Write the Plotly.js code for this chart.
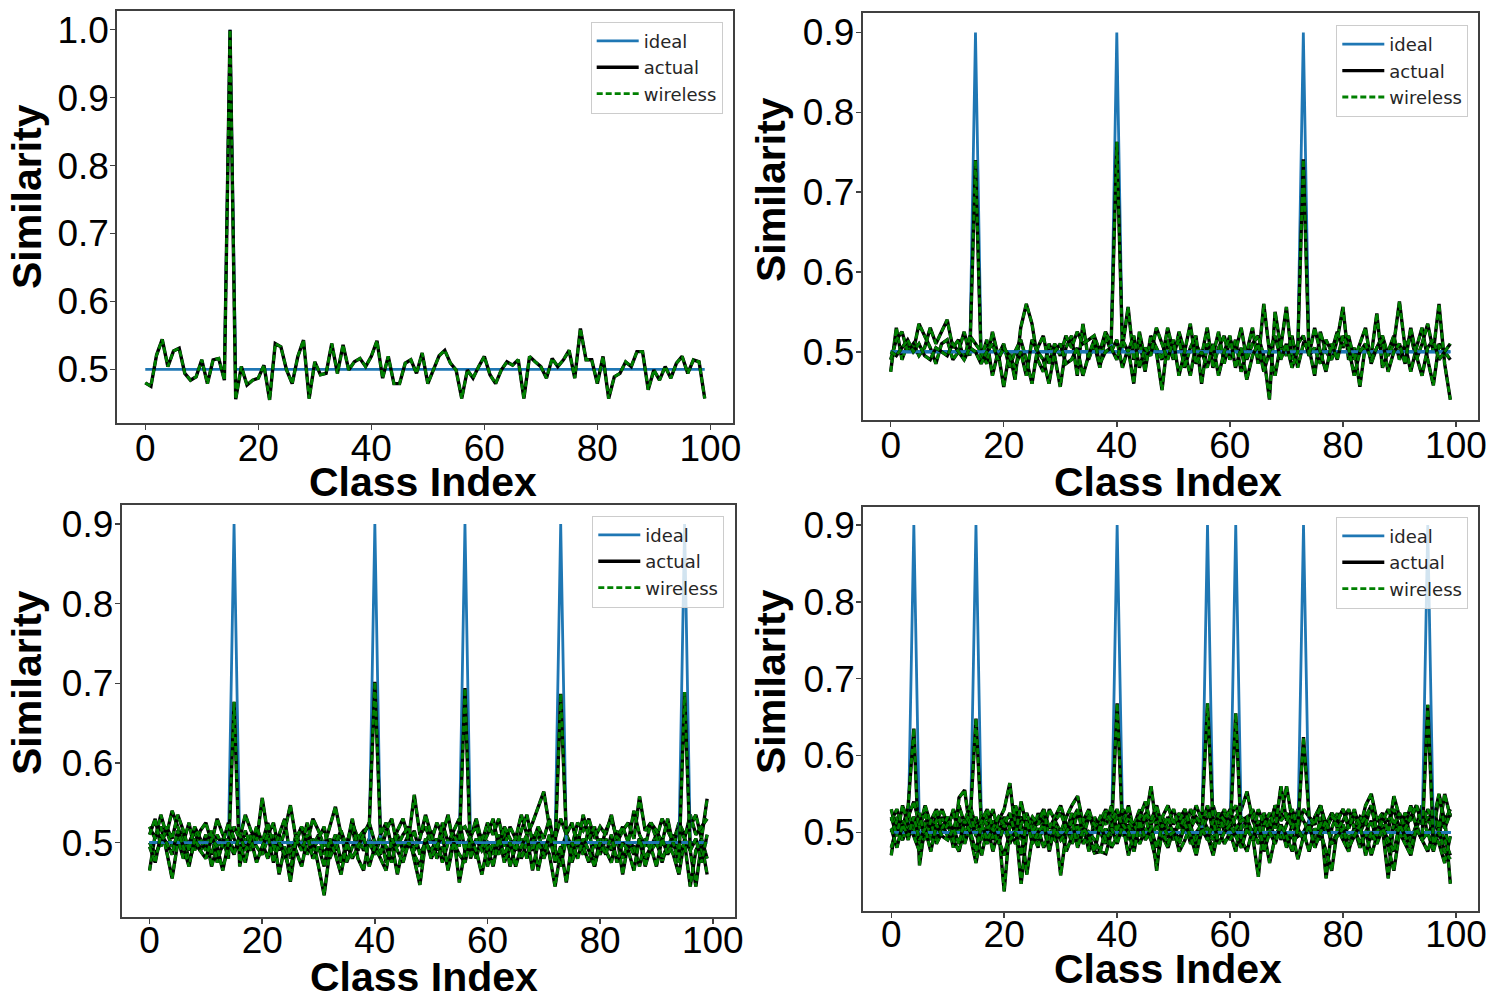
<!DOCTYPE html>
<html>
<head>
<meta charset="utf-8">
<script src="https://cdn.plot.ly/plotly-3.0.1.min.js"></script>
<style>
  html, body { margin: 0; padding: 0; background: #fff; }
  #chart { width: 1490px; height: 1000px; }
</style>
</head>
<body>
<div id="chart"></div>
<script>
// class index axis
var classIndex = [];
for (var c = 0; c < 100; c++) classIndex.push(c);

var xTicks = [0, 20, 40, 60, 80, 100];
var yTicks1 = [0.5, 0.6, 0.7, 0.8, 0.9, 1.0];
var yTicks = [0.5, 0.6, 0.7, 0.8, 0.9];

// ideal response: baseline everywhere, full similarity on the queried class
var idealBase = 0.5;
var idealHigh1 = 1.0;
var idealHigh = 0.9;

// panel 1 : one query
var peaks1 = [15];
var actual1a = [
  0.48, 0.475, 0.521, 0.544, 0.504, 0.527, 0.531, 0.494, 0.484, 0.489,
  0.514, 0.479, 0.514, 0.516, 0.484, 1.0, 0.456, 0.504, 0.477, 0.484,
  0.487, 0.506, 0.455, 0.538, 0.533, 0.499, 0.479, 0.519, 0.543, 0.457,
  0.511, 0.492, 0.494, 0.538, 0.494, 0.536, 0.499, 0.511, 0.516, 0.504,
  0.519, 0.542, 0.487, 0.519, 0.479, 0.479, 0.509, 0.514, 0.494, 0.524,
  0.479, 0.499, 0.52, 0.528, 0.509, 0.499, 0.457, 0.499, 0.487, 0.504,
  0.519, 0.492, 0.479, 0.499, 0.511, 0.506, 0.514, 0.457, 0.519, 0.511,
  0.504, 0.487, 0.516, 0.504, 0.514, 0.528, 0.487, 0.56, 0.514, 0.514,
  0.479, 0.519, 0.457, 0.489, 0.494, 0.511, 0.504, 0.526, 0.526, 0.47,
  0.499, 0.484, 0.504, 0.487, 0.509, 0.519, 0.494, 0.514, 0.511, 0.457
];

// panel 2 : three queries
var peaks2 = [15, 40, 73];
var actual2a = [
  0.475, 0.53, 0.49, 0.51, 0.50, 0.535, 0.52, 0.505, 0.485, 0.51,
  0.515, 0.49, 0.50, 0.525, 0.495, 0.74, 0.49, 0.515, 0.47, 0.50,
  0.456, 0.50, 0.465, 0.53, 0.56, 0.535, 0.49, 0.475, 0.51, 0.495,
  0.456, 0.505, 0.52, 0.47, 0.535, 0.49, 0.51, 0.48, 0.52, 0.50,
  0.515, 0.48, 0.505, 0.46, 0.525, 0.49, 0.51, 0.50, 0.452, 0.515,
  0.49, 0.525, 0.50, 0.47, 0.51, 0.495, 0.53, 0.48, 0.505, 0.52,
  0.49, 0.515, 0.475, 0.50, 0.53, 0.485, 0.56, 0.50, 0.47, 0.51,
  0.495, 0.52, 0.48, 0.51, 0.505, 0.47, 0.525, 0.50, 0.49, 0.515,
  0.556, 0.49, 0.505, 0.456, 0.51, 0.495, 0.548, 0.48, 0.50, 0.52,
  0.49, 0.51, 0.475, 0.505, 0.53, 0.49, 0.458, 0.51, 0.50, 0.49
];
var actual2b = [
  0.49, 0.515, 0.525, 0.50, 0.51, 0.495, 0.505, 0.53, 0.51, 0.525,
  0.54, 0.505, 0.515, 0.49, 0.52, 0.51, 0.50, 0.485, 0.525, 0.495,
  0.51, 0.48, 0.50, 0.515, 0.49, 0.46, 0.505, 0.52, 0.485, 0.51,
  0.495, 0.52, 0.505, 0.525, 0.51, 0.515, 0.52, 0.50, 0.525, 0.51,
  0.763, 0.505, 0.556, 0.49, 0.515, 0.475, 0.52, 0.505, 0.49, 0.53,
  0.50, 0.515, 0.48, 0.505, 0.52, 0.46, 0.51, 0.495, 0.525, 0.485,
  0.515, 0.50, 0.53, 0.49, 0.51, 0.52, 0.495, 0.44, 0.55, 0.505,
  0.556, 0.49, 0.51, 0.52, 0.495, 0.505, 0.485, 0.515, 0.50, 0.525,
  0.505, 0.52, 0.49, 0.51, 0.53, 0.485, 0.505, 0.52, 0.495, 0.51,
  0.563, 0.505, 0.52, 0.49, 0.51, 0.535, 0.50, 0.56, 0.485, 0.44
];
var actual2c = [
  0.50, 0.495, 0.505, 0.515, 0.50, 0.51, 0.495, 0.49, 0.505, 0.50,
  0.495, 0.51, 0.50, 0.49, 0.505, 0.50, 0.485, 0.50, 0.51, 0.49,
  0.505, 0.495, 0.48, 0.50, 0.47, 0.515, 0.50, 0.49, 0.46, 0.50,
  0.51, 0.485, 0.49, 0.505, 0.47, 0.495, 0.515, 0.485, 0.50, 0.505,
  0.49, 0.515, 0.50, 0.52, 0.48, 0.505, 0.495, 0.53, 0.51, 0.49,
  0.515, 0.47, 0.50, 0.535, 0.485, 0.50, 0.48, 0.51, 0.47, 0.50,
  0.52, 0.48, 0.505, 0.465, 0.495, 0.51, 0.475, 0.50, 0.52, 0.49,
  0.51, 0.48, 0.50, 0.741, 0.495, 0.53, 0.50, 0.475, 0.51, 0.49,
  0.52, 0.505, 0.47, 0.50, 0.51, 0.49, 0.505, 0.515, 0.475, 0.50,
  0.51, 0.485, 0.53, 0.495, 0.47, 0.505, 0.515, 0.49, 0.50, 0.51
];

// panel 3 : five queries
var peaks3 = [15, 40, 56, 73, 95];
var actual3a = [
  0.465, 0.51, 0.52, 0.49, 0.455, 0.50, 0.515, 0.475, 0.50, 0.49,
  0.51, 0.47, 0.495, 0.505, 0.48, 0.677, 0.47, 0.505, 0.49, 0.515,
  0.50, 0.48, 0.51, 0.46, 0.495, 0.451, 0.50, 0.52, 0.485, 0.505,
  0.47, 0.434, 0.49, 0.51, 0.475, 0.50, 0.52, 0.48, 0.465, 0.505,
  0.49, 0.51, 0.475, 0.50, 0.46, 0.495, 0.51, 0.48, 0.447, 0.50,
  0.515, 0.48, 0.495, 0.47, 0.51, 0.45, 0.49, 0.505, 0.48, 0.51,
  0.47, 0.50, 0.485, 0.515, 0.47, 0.495, 0.505, 0.48, 0.51, 0.465,
  0.50, 0.485, 0.445, 0.49, 0.51, 0.475, 0.50, 0.485, 0.52, 0.47,
  0.505, 0.49, 0.475, 0.51, 0.46, 0.50, 0.485, 0.505, 0.47, 0.495,
  0.51, 0.475, 0.50, 0.485, 0.46, 0.505, 0.49, 0.445, 0.50, 0.46
];
var actual3b = [
  0.52, 0.505, 0.535, 0.51, 0.54, 0.52, 0.50, 0.525, 0.49, 0.515,
  0.525, 0.50, 0.53, 0.51, 0.495, 0.52, 0.505, 0.535, 0.515, 0.50,
  0.556, 0.51, 0.525, 0.49, 0.515, 0.547, 0.505, 0.52, 0.50, 0.53,
  0.515, 0.495, 0.52, 0.545, 0.51, 0.49, 0.525, 0.505, 0.515, 0.52,
  0.702, 0.51, 0.525, 0.495, 0.515, 0.53, 0.505, 0.56, 0.51, 0.52,
  0.50, 0.525, 0.51, 0.535, 0.495, 0.515, 0.52, 0.505, 0.53, 0.50,
  0.525, 0.51, 0.53, 0.495, 0.52, 0.505, 0.535, 0.51, 0.525, 0.545,
  0.564, 0.52, 0.505, 0.53, 0.51, 0.495, 0.525, 0.515, 0.53, 0.505,
  0.52, 0.51, 0.535, 0.50, 0.515, 0.525, 0.505, 0.558, 0.515, 0.525,
  0.505, 0.53, 0.515, 0.50, 0.525, 0.51, 0.52, 0.535, 0.505, 0.555
];
var actual3c = [
  0.50, 0.485, 0.50, 0.515, 0.495, 0.505, 0.48, 0.50, 0.515, 0.49,
  0.50, 0.485, 0.51, 0.495, 0.505, 0.49, 0.50, 0.475, 0.51, 0.495,
  0.485, 0.505, 0.495, 0.51, 0.48, 0.50, 0.49, 0.47, 0.505, 0.495,
  0.51, 0.485, 0.50, 0.49, 0.515, 0.475, 0.495, 0.51, 0.49, 0.50,
  0.485, 0.505, 0.495, 0.475, 0.51, 0.49, 0.50, 0.515, 0.485, 0.50,
  0.49, 0.505, 0.475, 0.50, 0.51, 0.495, 0.694, 0.48, 0.505, 0.49,
  0.50, 0.485, 0.51, 0.475, 0.495, 0.505, 0.48, 0.50, 0.49, 0.515,
  0.48, 0.50, 0.49, 0.47, 0.505, 0.485, 0.51, 0.495, 0.475, 0.50,
  0.485, 0.505, 0.49, 0.515, 0.48, 0.50, 0.495, 0.47, 0.505, 0.49,
  0.50, 0.48, 0.495, 0.51, 0.485, 0.50, 0.445, 0.49, 0.505, 0.48
];
var actual3d = [
  0.51, 0.53, 0.495, 0.52, 0.505, 0.535, 0.515, 0.49, 0.52, 0.505,
  0.49, 0.515, 0.475, 0.50, 0.525, 0.505, 0.49, 0.515, 0.495, 0.52,
  0.50, 0.525, 0.49, 0.51, 0.53, 0.48, 0.51, 0.495, 0.525, 0.49,
  0.505, 0.52, 0.48, 0.50, 0.515, 0.495, 0.53, 0.49, 0.51, 0.525,
  0.50, 0.485, 0.515, 0.53, 0.495, 0.51, 0.52, 0.49, 0.505, 0.535,
  0.51, 0.49, 0.525, 0.50, 0.515, 0.53, 0.49, 0.51, 0.52, 0.495,
  0.51, 0.53, 0.495, 0.52, 0.505, 0.49, 0.515, 0.535, 0.50, 0.52,
  0.505, 0.53, 0.49, 0.687, 0.51, 0.525, 0.495, 0.535, 0.505, 0.52,
  0.49, 0.515, 0.53, 0.505, 0.52, 0.50, 0.54, 0.51, 0.495, 0.525,
  0.515, 0.50, 0.53, 0.495, 0.52, 0.505, 0.535, 0.51, 0.52, 0.53
];
var actual3e = [
  0.495, 0.475, 0.51, 0.50, 0.485, 0.515, 0.495, 0.47, 0.505, 0.49,
  0.48, 0.505, 0.495, 0.465, 0.50, 0.485, 0.51, 0.49, 0.505, 0.475,
  0.495, 0.51, 0.475, 0.50, 0.485, 0.465, 0.505, 0.49, 0.51, 0.48,
  0.495, 0.47, 0.505, 0.485, 0.46, 0.50, 0.48, 0.495, 0.51, 0.47,
  0.495, 0.48, 0.465, 0.505, 0.49, 0.475, 0.50, 0.485, 0.47, 0.505,
  0.48, 0.495, 0.51, 0.465, 0.50, 0.485, 0.475, 0.505, 0.49, 0.46,
  0.495, 0.47, 0.505, 0.485, 0.50, 0.47, 0.495, 0.51, 0.465, 0.50,
  0.485, 0.51, 0.475, 0.495, 0.45, 0.50, 0.48, 0.505, 0.49, 0.47,
  0.50, 0.485, 0.51, 0.475, 0.50, 0.49, 0.465, 0.505, 0.48, 0.495,
  0.47, 0.505, 0.485, 0.50, 0.475, 0.689, 0.49, 0.505, 0.475, 0.51
];

// panel 4 : seven queries
var peaks4 = [4, 15, 40, 56, 61, 73, 95];
var actual4a = [
  0.47, 0.52, 0.505, 0.535, 0.635, 0.457, 0.51, 0.49, 0.525, 0.50,
  0.515, 0.48, 0.545, 0.555, 0.50, 0.52, 0.49, 0.51, 0.475, 0.505,
  0.423, 0.51, 0.53, 0.49, 0.515, 0.50, 0.48, 0.52, 0.495, 0.51,
  0.444, 0.50, 0.525, 0.49, 0.51, 0.475, 0.52, 0.50, 0.485, 0.515,
  0.50, 0.525, 0.49, 0.51, 0.53, 0.495, 0.515, 0.45, 0.52, 0.505,
  0.49, 0.515, 0.53, 0.50, 0.485, 0.52, 0.505, 0.49, 0.515, 0.53,
  0.50, 0.475, 0.52, 0.51, 0.495, 0.442, 0.515, 0.50, 0.53, 0.49,
  0.51, 0.525, 0.495, 0.50, 0.515, 0.48, 0.52, 0.44, 0.505, 0.525,
  0.49, 0.51, 0.53, 0.50, 0.515, 0.49, 0.52, 0.505, 0.44, 0.515,
  0.50, 0.525, 0.49, 0.51, 0.535, 0.495, 0.515, 0.50, 0.52, 0.433
];
var actual4b = [
  0.53, 0.50, 0.515, 0.49, 0.52, 0.505, 0.535, 0.51, 0.495, 0.52,
  0.505, 0.53, 0.51, 0.49, 0.52, 0.648, 0.505, 0.525, 0.49, 0.515,
  0.53, 0.564, 0.50, 0.52, 0.51, 0.495, 0.525, 0.505, 0.53, 0.515,
  0.50, 0.52, 0.535, 0.547, 0.51, 0.525, 0.50, 0.515, 0.53, 0.505,
  0.52, 0.51, 0.535, 0.50, 0.525, 0.515, 0.56, 0.505, 0.52, 0.535,
  0.51, 0.525, 0.50, 0.53, 0.515, 0.505, 0.52, 0.535, 0.51, 0.525,
  0.505, 0.52, 0.53, 0.553, 0.515, 0.50, 0.525, 0.51, 0.535, 0.52,
  0.56, 0.515, 0.505, 0.53, 0.52, 0.51, 0.535, 0.50, 0.525, 0.515,
  0.53, 0.51, 0.52, 0.505, 0.535, 0.55, 0.515, 0.525, 0.50, 0.547,
  0.52, 0.51, 0.535, 0.505, 0.525, 0.515, 0.53, 0.505, 0.55, 0.52
];
var actual4c = [
  0.50, 0.515, 0.49, 0.525, 0.505, 0.48, 0.515, 0.50, 0.49, 0.51,
  0.495, 0.505, 0.52, 0.485, 0.51, 0.50, 0.47, 0.505, 0.515, 0.49,
  0.505, 0.485, 0.51, 0.433, 0.50, 0.515, 0.49, 0.505, 0.475, 0.51,
  0.495, 0.51, 0.485, 0.50, 0.515, 0.49, 0.473, 0.475, 0.472, 0.50,
  0.668, 0.495, 0.51, 0.485, 0.505, 0.52, 0.49, 0.51, 0.495, 0.48,
  0.505, 0.49, 0.515, 0.485, 0.50, 0.51, 0.495, 0.48, 0.505, 0.515,
  0.49, 0.505, 0.485, 0.51, 0.495, 0.50, 0.48, 0.515, 0.49, 0.505,
  0.485, 0.51, 0.495, 0.50, 0.475, 0.505, 0.49, 0.515, 0.485, 0.50,
  0.51, 0.49, 0.505, 0.48, 0.50, 0.515, 0.49, 0.505, 0.485, 0.51,
  0.495, 0.505, 0.48, 0.51, 0.49, 0.50, 0.475, 0.505, 0.49, 0.47
];
var actual4d = [
  0.515, 0.53, 0.505, 0.52, 0.54, 0.51, 0.525, 0.495, 0.515, 0.53,
  0.51, 0.525, 0.50, 0.515, 0.535, 0.505, 0.52, 0.51, 0.53, 0.50,
  0.52, 0.505, 0.535, 0.51, 0.525, 0.50, 0.515, 0.53, 0.505, 0.52,
  0.535, 0.51, 0.50, 0.525, 0.515, 0.53, 0.505, 0.52, 0.51, 0.535,
  0.50, 0.53, 0.515, 0.505, 0.52, 0.54, 0.51, 0.525, 0.50, 0.515,
  0.53, 0.505, 0.52, 0.51, 0.535, 0.515, 0.668, 0.51, 0.525, 0.50,
  0.52, 0.535, 0.505, 0.515, 0.53, 0.51, 0.52, 0.50, 0.535, 0.515,
  0.525, 0.505, 0.53, 0.515, 0.50, 0.52, 0.535, 0.51, 0.525, 0.505,
  0.515, 0.53, 0.505, 0.52, 0.51, 0.535, 0.50, 0.52, 0.515, 0.53,
  0.505, 0.525, 0.515, 0.535, 0.51, 0.52, 0.50, 0.548, 0.515, 0.53
];
var actual4e = [
  0.48, 0.505, 0.49, 0.51, 0.495, 0.475, 0.50, 0.515, 0.485, 0.50,
  0.51, 0.49, 0.475, 0.505, 0.495, 0.46, 0.50, 0.485, 0.51, 0.49,
  0.47, 0.50, 0.485, 0.51, 0.445, 0.495, 0.505, 0.48, 0.50, 0.49,
  0.505, 0.475, 0.495, 0.51, 0.485, 0.50, 0.49, 0.475, 0.505, 0.48,
  0.495, 0.51, 0.47, 0.50, 0.485, 0.505, 0.49, 0.46, 0.50, 0.485,
  0.505, 0.475, 0.49, 0.51, 0.48, 0.50, 0.495, 0.47, 0.505, 0.485,
  0.50, 0.655, 0.49, 0.475, 0.505, 0.485, 0.50, 0.46, 0.495, 0.51,
  0.48, 0.50, 0.465, 0.495, 0.51, 0.485, 0.50, 0.475, 0.45, 0.505,
  0.49, 0.475, 0.505, 0.485, 0.50, 0.47, 0.495, 0.51, 0.48, 0.45,
  0.50, 0.485, 0.47, 0.505, 0.49, 0.475, 0.50, 0.485, 0.46, 0.495
];
var actual4f = [
  0.52, 0.495, 0.535, 0.51, 0.50, 0.525, 0.49, 0.515, 0.53, 0.505,
  0.52, 0.50, 0.535, 0.51, 0.525, 0.495, 0.515, 0.53, 0.505, 0.52,
  0.51, 0.525, 0.495, 0.54, 0.505, 0.52, 0.51, 0.53, 0.49, 0.515,
  0.525, 0.505, 0.515, 0.53, 0.495, 0.52, 0.51, 0.50, 0.525, 0.515,
  0.53, 0.505, 0.52, 0.51, 0.495, 0.525, 0.515, 0.535, 0.505, 0.52,
  0.495, 0.515, 0.53, 0.505, 0.52, 0.51, 0.535, 0.50, 0.525, 0.515,
  0.53, 0.505, 0.515, 0.52, 0.495, 0.53, 0.51, 0.525, 0.505, 0.56,
  0.515, 0.53, 0.505, 0.624, 0.52, 0.51, 0.535, 0.505, 0.52, 0.515,
  0.53, 0.505, 0.525, 0.51, 0.52, 0.535, 0.50, 0.515, 0.53, 0.51,
  0.525, 0.505, 0.52, 0.535, 0.51, 0.53, 0.515, 0.55, 0.505, 0.525
];
var actual4g = [
  0.505, 0.48, 0.51, 0.495, 0.52, 0.49, 0.505, 0.475, 0.51, 0.495,
  0.49, 0.505, 0.485, 0.515, 0.50, 0.475, 0.51, 0.49, 0.505, 0.485,
  0.51, 0.49, 0.50, 0.47, 0.515, 0.485, 0.50, 0.51, 0.48, 0.505,
  0.49, 0.50, 0.515, 0.48, 0.505, 0.495, 0.475, 0.51, 0.49, 0.505,
  0.485, 0.51, 0.50, 0.475, 0.515, 0.49, 0.505, 0.48, 0.51, 0.495,
  0.50, 0.485, 0.51, 0.495, 0.47, 0.505, 0.49, 0.515, 0.485, 0.50,
  0.51, 0.495, 0.48, 0.505, 0.49, 0.515, 0.475, 0.50, 0.485, 0.51,
  0.495, 0.475, 0.505, 0.49, 0.51, 0.48, 0.50, 0.515, 0.485, 0.495,
  0.505, 0.48, 0.495, 0.51, 0.47, 0.50, 0.485, 0.505, 0.49, 0.475,
  0.51, 0.495, 0.48, 0.505, 0.49, 0.666, 0.485, 0.50, 0.475, 0.465
];

var panels = [
  { peaks: peaks1, high: idealHigh1, actual: [actual1a], xa: 'x', ya: 'y', legend: 'legend' },
  { peaks: peaks2, high: idealHigh, actual: [actual2a, actual2b, actual2c], xa: 'x2', ya: 'y2', legend: 'legend2' },
  { peaks: peaks3, high: idealHigh, actual: [actual3a, actual3b, actual3c, actual3d, actual3e], xa: 'x3', ya: 'y3', legend: 'legend3' },
  { peaks: peaks4, high: idealHigh, actual: [actual4a, actual4b, actual4c, actual4d, actual4e, actual4f, actual4g], xa: 'x4', ya: 'y4', legend: 'legend4' }
];

var blue = '#1f77b4', black = '#000000', green = '#008000';
var traces = [];

panels.forEach(function (p) {
  p.actual.forEach(function (vals, i) {
    var ideal = classIndex.map(function (k) {
      return k === p.peaks[i] ? p.high : idealBase;
    });
    var first = i === 0;
    traces.push({
      type: 'scatter', mode: 'lines', x: classIndex, y: ideal,
      xaxis: p.xa, yaxis: p.ya, legend: p.legend,
      name: 'ideal', showlegend: first, hoverinfo: 'skip',
      line: { color: blue, width: 2.8 }
    });
    traces.push({
      type: 'scatter', mode: 'lines', x: classIndex, y: vals,
      xaxis: p.xa, yaxis: p.ya, legend: p.legend,
      name: 'actual', showlegend: first, hoverinfo: 'skip',
      line: { color: black, width: 3.4 }
    });
    // wireless readout sits on top of the wired one
    traces.push({
      type: 'scatter', mode: 'lines', x: classIndex, y: vals,
      xaxis: p.xa, yaxis: p.ya, legend: p.legend,
      name: 'wireless', showlegend: first, hoverinfo: 'skip',
      line: { color: green, width: 2.8, dash: '6px,3px' }
    });
  });
});

var tickFont = { family: 'Liberation Sans, Arial, sans-serif', size: 37, color: '#000' };

function xAxis(domain, anchor, standoff) {
  return {
    domain: domain, anchor: anchor, range: [-4.95, 103.95],
    tickmode: 'array', tickvals: xTicks, ticktext: xTicks.map(String),
    showgrid: false, zeroline: false,
    showline: true, mirror: true, linecolor: '#404040', linewidth: 2,
    ticks: 'outside', ticklen: 5, tickwidth: 1.5, tickcolor: '#404040',
    ticklabelstandoff: standoff,
    tickfont: tickFont
  };
}
function yAxis(domain, anchor, range, vals) {
  return {
    domain: domain, anchor: anchor, range: range,
    tickmode: 'array', tickvals: vals, ticktext: vals.map(function (v) { return v.toFixed(1); }),
    showgrid: false, zeroline: false,
    showline: true, mirror: true, linecolor: '#404040', linewidth: 2,
    ticks: 'outside', ticklen: 5, tickwidth: 1.5, tickcolor: '#404040',
    ticklabelstandoff: -6,
    tickfont: tickFont
  };
}
function legendBox(x, y) {
  return {
    x: x, y: y, xanchor: 'right', yanchor: 'top',
    bgcolor: 'rgba(255,255,255,0.8)', bordercolor: '#cccccc', borderwidth: 1,
    font: { family: 'DejaVu Sans, sans-serif', size: 18, color: '#262626' },
    itemwidth: 42, tracegroupgap: 0
  };
}

var W = 1490, H = 1000;
function label(text, px, py, angle) {
  return {
    text: text, xref: 'paper', yref: 'paper', x: px / W, y: 1 - py / H,
    xanchor: 'center', yanchor: 'middle', showarrow: false, textangle: angle,
    font: { family: 'Liberation Sans, Arial, sans-serif', size: 41, color: '#000', weight: 'bold' }
  };
}

var layout = {
  width: W, height: H,
  margin: { l: 0, r: 0, t: 0, b: 0 },
  paper_bgcolor: '#fff', plot_bgcolor: '#fff',
  showlegend: true,
  xaxis: xAxis([117.3 / W, 732.7 / W], 'y', -13),
  yaxis: yAxis([1 - 422.7 / H, 1 - 10.7 / H], 'x', [0.4214, 1.028], yTicks1),
  xaxis2: xAxis([862.7 / W, 1478.3 / W], 'y2', -13),
  yaxis2: yAxis([1 - 420 / H, 1 - 13.3 / H], 'x2', [0.4145, 0.924], yTicks),
  xaxis3: xAxis([121.7 / W, 735 / W], 'y3', -15),
  yaxis3: yAxis([1 - 916.7 / H, 1 - 505 / H], 'x3', [0.407, 0.924], yTicks),
  xaxis4: xAxis([863.3 / W, 1478.3 / W], 'y4', -15),
  yaxis4: yAxis([1 - 911 / H, 1 - 506.7 / H], 'x4', [0.3975, 0.924], yTicks),
  legend: legendBox(722.7 / W, 1 - 21.7 / H),
  legend2: legendBox(1468.3 / W, 1 - 25 / H),
  legend3: legendBox(724.3 / W, 1 - 515.7 / H),
  legend4: legendBox(1468.3 / W, 1 - 516.7 / H),
  annotations: [
    label('Similarity', 27, 197, -90),
    label('Similarity', 771, 190, -90),
    label('Similarity', 27, 683, -90),
    label('Similarity', 771, 682, -90),
    label('Class Index', 423, 482, 0),
    label('Class Index', 1168, 482, 0),
    label('Class Index', 424, 977, 0),
    label('Class Index', 1168, 969, 0)
  ]
};

Plotly.newPlot('chart', traces, layout, { staticPlot: true });
</script>
</body>
</html>
